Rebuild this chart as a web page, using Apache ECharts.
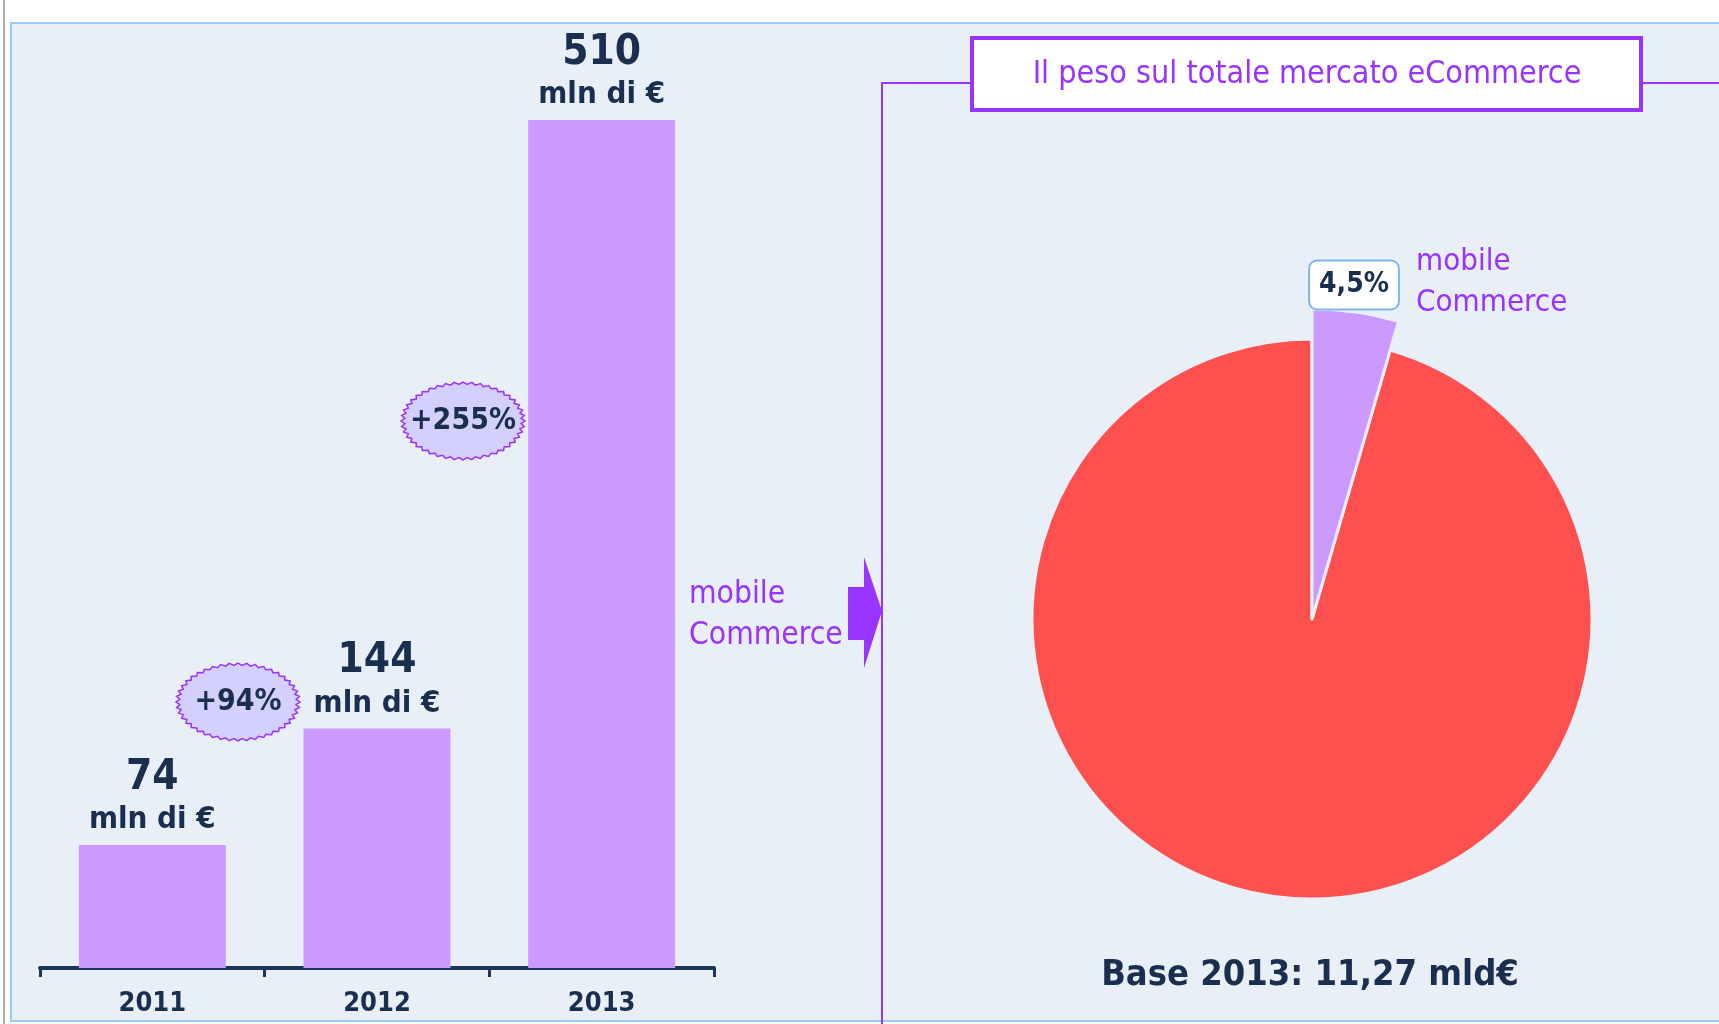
<!DOCTYPE html>
<html>
<head>
<meta charset="utf-8">
<script src="https://cdn.jsdelivr.net/npm/echarts@6/dist/echarts.min.js"></script>
<style>
html,body{margin:0;padding:0;background:#fff;}
#c{width:1719px;height:1024px;}
</style>
</head>
<body>
<div id="c"></div>
<script>
// ---- data ----
const years = ['2011', '2012', '2013'];
const mcommerceValues = [74, 144, 510];          // mln di €
const valueUnit = 'mln di €';
const growthLabels = ['+94%', '+255%'];
const shareNames = ['mobile Commerce', 'altro eCommerce'];
const shareValues = [4.5, 95.5];                  // % of 2013 eCommerce
const pieTitle = 'Il peso sul totale mercato eCommerce';
const baseLabel = 'Base 2013: 11,27 mld€';
const sideLabel = 'mobile\nCommerce';

// ---- styles ----
const FONT = "'DejaVu Sans Condensed', 'DejaVu Sans', sans-serif";
const NAVY = '#1a2e50';
const PURPLE = '#9933ff';
const BAR = '#cc99ff';
const RED = '#ff5050';
const BG = '#e8eff6';

const chart = echarts.init(document.getElementById('c'), null, {renderer: 'canvas'});

function zigzag(cx, cy, rx, ry, n, depth) {
  const pts = [];
  for (let i = 0; i < 2 * n; i++) {
    const a = i * Math.PI / n;
    const f = (i % 2 === 0) ? 1 : 1 - depth;
    pts.push([cx + rx * f * Math.cos(a), cy + ry * f * Math.sin(a)]);
  }
  return pts;
}

function badge(cx, cy, text) {
  return [
    {type: 'polygon', z: 10, shape: {points: zigzag(cx, cy, 62, 39, 44, 0.06)},
     style: {fill: '#d3d0ff', stroke: PURPLE, lineWidth: 1.5}},
    {type: 'text', z: 11, x: cx, y: cy,
     style: {text: text, fill: NAVY, font: 'bold 30px ' + FONT, align: 'center', verticalAlign: 'middle'}}
  ];
}

const pctText = String(shareValues[0]).replace('.', ',') + '%';

const graphics = [
  // panel background
  {type: 'rect', z: -10, shape: {x: 11, y: 23, width: 1720, height: 998},
   style: {fill: BG, stroke: '#9cc8f4', lineWidth: 2}},
  {type: 'line', z: -9, shape: {x1: 4, y1: 0, x2: 4, y2: 1024}, style: {stroke: '#b0b0b0', lineWidth: 2}},
  // right panel frame
  {type: 'polyline', z: 1, shape: {points: [[882, 1024], [882, 83], [972, 83]]}, style: {stroke: PURPLE, lineWidth: 2, fill: null}},
  {type: 'line', z: 1, shape: {x1: 1641, y1: 83, x2: 1719, y2: 83}, style: {stroke: PURPLE, lineWidth: 2}},
  {type: 'rect', z: 2, shape: {x: 972, y: 38, width: 669, height: 72},
   style: {fill: '#ffffff', stroke: PURPLE, lineWidth: 4}},
  {type: 'text', z: 3, x: 1307, y: 75,
   style: {text: pieTitle, fill: PURPLE, font: '32px ' + FONT, align: 'center', verticalAlign: 'middle'}},
  // arrow
  {type: 'polygon', z: 2, shape: {points: [[848, 587], [864, 587], [864, 557], [882, 611], [864, 668], [864, 640], [848, 640]]},
   style: {fill: PURPLE}},
  {type: 'text', z: 3, x: 689, y: 615,
   style: {text: sideLabel, fill: PURPLE, font: '31.5px ' + FONT, lineHeight: 41, align: 'left', verticalAlign: 'middle'}},
  // pie side labels
  {type: 'text', z: 6, x: 1416, y: 282,
   style: {text: sideLabel, fill: PURPLE, font: '31px ' + FONT, lineHeight: 41, align: 'left', verticalAlign: 'middle'}},
  {type: 'text', z: 6, x: 1354, y: 285,
   style: {text: pctText, fill: NAVY, font: 'bold 28px ' + FONT, align: 'center', verticalAlign: 'middle',
           backgroundColor: '#ffffff', borderColor: '#7fb6ee', borderWidth: 2, borderRadius: 7,
           padding: [10, 9, 9, 9]}},
  // base
  {type: 'text', z: 3, x: 1310, y: 976,
   style: {text: baseLabel, fill: NAVY, font: 'bold 36px ' + FONT, align: 'center', verticalAlign: 'middle'}}
].concat(badge(238, 702, growthLabels[0]), badge(463, 421, growthLabels[1]));

const option = {
  backgroundColor: '#ffffff',
  animation: false,
  grid: {left: 40, right: 1005, top: 120, bottom: 56},
  xAxis: {
    type: 'category', data: years,
    axisLine: {lineStyle: {color: '#1d3559', width: 4}},
    axisTick: {show: true, length: 9, lineStyle: {color: '#1d3559', width: 3}},
    axisLabel: {color: NAVY, fontFamily: FONT, fontWeight: 'bold', fontSize: 27, margin: 22}
  },
  yAxis: {type: 'value', min: 0, max: 510, show: false, splitLine: {show: false}},
  graphic: graphics,
  series: [
    {
      type: 'bar', data: mcommerceValues, barWidth: 147,
      itemStyle: {color: BAR},
      label: {
        show: true, position: 'top', distance: 6,
        formatter: p => '{v|' + p.value + '}\n{u|' + valueUnit + '}',
        rich: {
          v: {fontFamily: FONT, fontWeight: 'bold', fontSize: 42, color: NAVY, lineHeight: 46, align: 'center'},
          u: {fontFamily: FONT, fontWeight: 'bold', fontSize: 31, color: NAVY, lineHeight: 38, align: 'center'}
        }
      }
    },
    {
      type: 'pie', center: [1312, 619], radius: 280, startAngle: 90, clockwise: true,
      silent: true, z: 3,
      label: {show: false}, labelLine: {show: false},
      data: [
        {name: shareNames[0], value: shareValues[0], itemStyle: {color: 'transparent', borderWidth: 0}},
        {name: shareNames[1], value: shareValues[1], itemStyle: {color: RED, borderColor: BG, borderWidth: 3}}
      ]
    },
    {
      type: 'pie', center: [1312, 619], radius: 310, startAngle: 90, clockwise: true,
      silent: true, z: 4,
      label: {show: false}, labelLine: {show: false},
      data: [
        {name: shareNames[0], value: shareValues[0], itemStyle: {color: BAR, borderColor: BG, borderWidth: 3}},
        {name: shareNames[1], value: shareValues[1], itemStyle: {color: 'transparent', borderWidth: 0}}
      ]
    }
  ]
};
chart.setOption(option);
</script>
</body>
</html>
